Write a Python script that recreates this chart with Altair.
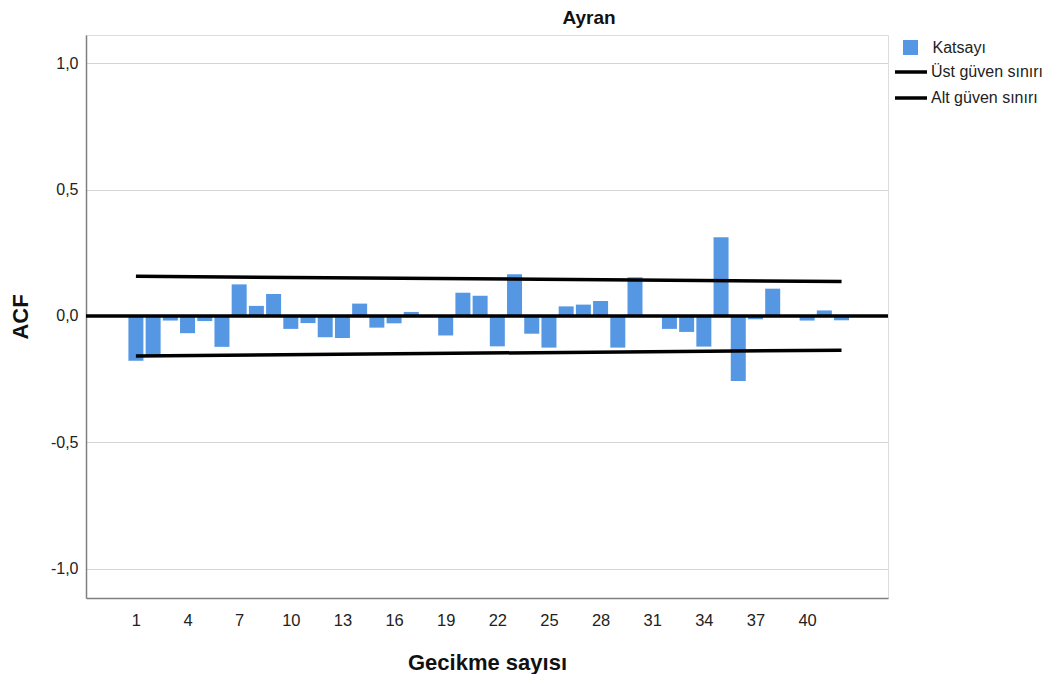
import altair as alt
import pandas as pd

# ---- data ----
lags = list(range(1, 43))
acf = [-0.177, -0.154, -0.018, -0.068, -0.020, -0.122, 0.125, 0.040, 0.087, -0.051,
       -0.028, -0.084, -0.087, 0.049, -0.046, -0.029, 0.016, 0.002, -0.077, 0.092,
       0.080, -0.120, 0.165, -0.070, -0.125, 0.038, 0.045, 0.059, -0.125, 0.153,
       0.002, -0.051, -0.063, -0.121, 0.311, -0.257, -0.013, 0.108, 0.003, -0.018,
       0.022, -0.017]
conf_lags = [1, 42]
upper = [0.157, 0.136]
lower = [-0.158, -0.135]
x_ticks = [1, 4, 7, 10, 13, 16, 19, 22, 25, 28, 31, 34, 37, 40]
y_ticks = [-1.0, -0.5, 0.0, 0.5, 1.0]
bar_name = "Katsayı"
upper_name = "Üst güven sınırı"
lower_name = "Alt güven sınırı"

BLUE = "#5597e3"
FONT = "Liberation Sans"

bars_df = pd.DataFrame({"lag": lags, "acf": acf, "seri": [bar_name] * len(lags)})
conf_df = pd.DataFrame({
    "lag": conf_lags + conf_lags,
    "value": upper + lower,
    "seri": [upper_name] * 2 + [lower_name] * 2,
})
zero_df = pd.DataFrame({"y": [0.0]})

xscale = alt.Scale(domain=[-1.9, 44.7], nice=False, zero=False, padding=0)
yscale = alt.Scale(domain=[-1.115, 1.111], nice=False, padding=0)

x_axis = alt.Axis(values=x_ticks, title="Gecikme sayısı", grid=False, ticks=False,
                  domainColor="#7f7f7f", domainWidth=1.5, labelFontSize=16.5,
                  labelColor="#222222", labelPadding=14, labelFont=FONT,
                  titleFont=FONT, titleFontSize=22, titleFontWeight="bold",
                  titleColor="#111111", titlePadding=24)
y_axis = alt.Axis(values=y_ticks, title="ACF", grid=True, gridColor="#d4d4d4",
                  gridWidth=1.2, ticks=False, domainColor="#7f7f7f", domainWidth=1.5,
                  labelExpr="replace(replace(format(datum.value, '.1f'), '.', ','), '\u2212', '-')",
                  labelFontSize=16, labelColor="#222222", labelPadding=8, labelFont=FONT,
                  titleFont=FONT, titleFontSize=22, titleFontWeight="bold",
                  titleColor="#111111", titlePadding=18)

bars = alt.Chart(bars_df).mark_bar(size=15).encode(
    x=alt.X("lag:Q", scale=xscale, axis=x_axis),
    y=alt.Y("acf:Q", scale=yscale, axis=y_axis),
    fill=alt.Fill("seri:N", scale=alt.Scale(domain=[bar_name], range=[BLUE]),
                  legend=alt.Legend(title=None, orient="none", legendX=816.5, legendY=4.5,
                                    symbolType="square", symbolSize=225, symbolStrokeWidth=0,
                                    labelOffset=14, labelFontSize=16, labelFont=FONT,
                                    labelColor="#222222", padding=0)),
)

zero = alt.Chart(zero_df).mark_rule(color="black", strokeWidth=3.5).encode(
    y=alt.Y("y:Q", scale=yscale),
)

conf = alt.Chart(conf_df).mark_line(strokeWidth=3.5, strokeCap="butt").encode(
    x=alt.X("lag:Q", scale=xscale),
    y=alt.Y("value:Q", scale=yscale),
    stroke=alt.Stroke("seri:N",
                      scale=alt.Scale(domain=[upper_name, lower_name], range=["black", "black"]),
                      legend=alt.Legend(title=None, orient="none", legendX=815, legendY=27,
                                        symbolType="M-2,0H2", symbolSize=256,
                                        symbolStrokeWidth=3.5, symbolStrokeColor="black",
                                        labelOffset=10, labelFontSize=16, labelFont=FONT,
                                        labelColor="#222222", rowPadding=8, padding=0)),
)

chart = alt.layer(bars, conf, zero).properties(
    width=802,
    height=563,
    title=alt.TitleParams("Ayran", font=FONT, fontSize=19, fontWeight="bold",
                          color="#111111", anchor="middle", dx=102, offset=7),
    autosize=alt.AutoSizeParams(type="none"),
    padding={"left": 78, "top": 27, "right": 165, "bottom": 76},
).configure_view(stroke=None).configure(background="white")

chart.save("out.html", embed_options={"renderer": "svg", "actions": False})
